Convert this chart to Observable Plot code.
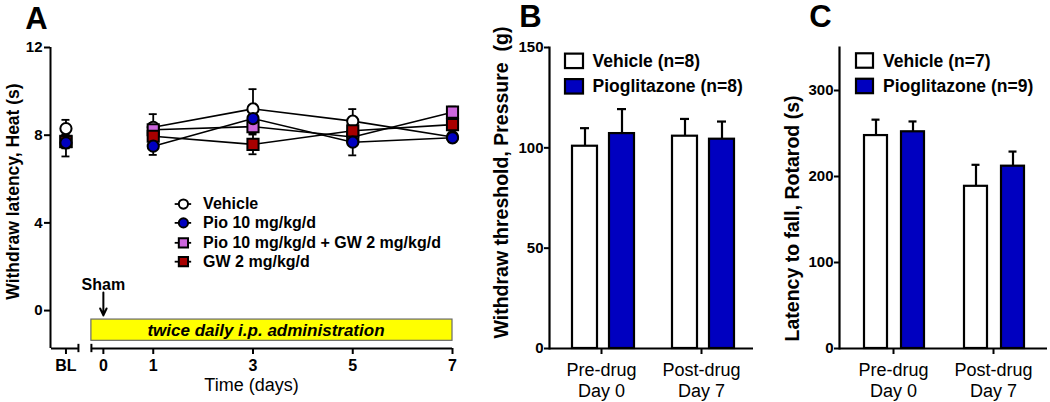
<!DOCTYPE html>
<html><head><meta charset="utf-8">
<script src="https://cdn.jsdelivr.net/npm/d3@7"></script>
<script src="https://cdn.jsdelivr.net/npm/@observablehq/plot@0.6"></script>
<style>
body{margin:0;background:#fff;}
#wrap{position:relative;width:1050px;height:402px;overflow:hidden;background:#fff;}
#wrap > svg{position:absolute;top:0;}
</style></head><body><div id="wrap"></div>
<script>
// ---------- Panel A data ----------
const timePoints = ["BL", 1, 3, 5, 7];
const xTickLabelsA = ["BL", 0, 1, 3, 5, 7];
const yTicksA = [0, 4, 8, 12];
const seriesA = ["Vehicle", "Pio 10 mg/kg/d", "Pio 10 mg/kg/d + GW 2 mg/kg/d", "GW 2 mg/kg/d"];
const vehicleMean = [8.30, 8.36, 9.20, 8.64, 7.92];
const vehicleSem  = [0.40, 0.60, 0.90, 0.55, 0.20];
const pioMean     = [7.65, 7.50, 8.76, 7.68, 7.88];
const pioSem      = [0.62, 0.40, 0.30, 0.60, 0.20];
const pioGwMean   = [7.72, 8.25, 8.39, 7.92, 9.05];
const pioGwSem    = [0.30, 0.30, 0.30, 0.30, 0.25];
const gwMean      = [7.70, 7.95, 7.58, 8.20, 8.48];
const gwSem       = [0.30, 0.30, 0.45, 0.30, 0.25];
const colorsA  = ["#ffffff", "#0000c0", "#cc66dd", "#a80000"];
const symbolsA = ["circle", "circle", "square", "square"];
const boxText = "twice daily i.p. administration";
const shamText = "Sham";

// ---------- Panel B data ----------
const groups = ["Pre-drug\nDay 0", "Post-drug\nDay 7"];
const barSeries = ["Vehicle", "Pioglitazone"];
const vehicleB = [100.8, 105.8];
const vehicleBErr = [9.0, 8.6];
const pioB = [107.1, 104.3];
const pioBErr = [12.2, 8.8];
const legendB = ["Vehicle (n=8)", "Pioglitazone (n=8)"];
const yTicksB = [0, 50, 100, 150];

// ---------- Panel C data ----------
const vehicleC = [247.6, 188.6];
const vehicleCErr = [18.5, 25.0];
const pioC = [252.0, 212.0];
const pioCErr = [12.0, 17.0];
const legendC = ["Vehicle (n=7)", "Pioglitazone (n=9)"];
const yTicksC = [0, 100, 200, 300];

const FONT = '"Liberation Sans", Arial, Helvetica, sans-serif';
const BLUE = "#0000c0";
const wrap = document.getElementById("wrap");
const baseStyle = {fontFamily: FONT, fontSize: "15px", color: "#000", background: "transparent", overflow: "visible"};

// ================= Panel A =================
const BL_POS = -0.75;
const pos = t => t === "BL" ? BL_POS : t;
const xDomainA = [-1.06, 7];
const yDomainA = [-1.73, 12];
const meansA = [vehicleMean, pioMean, pioGwMean, gwMean];
const semsA = [vehicleSem, pioSem, pioGwSem, gwSem];
const rowsA = [];
seriesA.forEach((s, i) => timePoints.forEach((t, j) => rowsA.push({
  series: s, idx: i, day: pos(t), bl: t === "BL", mean: meansA[i][j], sem: semsA[i][j]
})));
const drawOrder = [0, 2, 3, 1];
const legendY = [4.86, 4.0, 3.09, 2.23];

const marksA = [
  // axes
  Plot.ruleX([xDomainA[0]], {strokeWidth: 2}),
  Plot.ruleY([{a: xDomainA[0] + 0.02, b: -0.5}, {a: -0.24, b: 7}], {y: yDomainA[0], x1: "a", x2: "b", strokeWidth: 2}),
  Plot.ruleX([-0.5, -0.24], {y1: yDomainA[0] - 0.19, y2: yDomainA[0] + 0.19, strokeWidth: 2}),
  Plot.axisY({ticks: yTicksA, tickSize: 6, tickPadding: 2, fontSize: 15, fontWeight: "bold", strokeWidth: 2, label: null}),
  Plot.axisX({ticks: xTickLabelsA.map(pos), tickSize: 6, tickPadding: 5, fontSize: 16, fontWeight: "bold", strokeWidth: 2,
    tickFormat: d => d === BL_POS ? "BL" : String(d), label: null}),
  // treatment box
  Plot.rect([{x1: -0.24, x2: 7, y1: -0.41, y2: -1.38}], {x1: "x1", x2: "x2", y1: "y1", y2: "y2", fill: "#ffff00", stroke: "#6a6a6a", strokeWidth: 1.2}),
  Plot.text([boxText], {x: 3.26, y: -0.9, fontSize: 17, fontWeight: "bold", fontStyle: "italic"}),
  // sham arrow
  Plot.arrow([{x: 0}], {x1: "x", x2: "x", y1: 0.82, y2: -0.22, strokeWidth: 2, headLength: 9, headAngle: 50}),
  Plot.text([shamText], {x: 0, y: 1.19, fontSize: 16, fontWeight: "bold"}),
  // error bars
  Plot.ruleX(rowsA, {x: "day", y1: d => d.mean - d.sem, y2: d => d.mean + d.sem, strokeWidth: 1.8}),
  Plot.ruleY(rowsA, {x1: d => d.day - 0.08, x2: d => d.day + 0.08, y: d => d.mean + d.sem, strokeWidth: 1.8}),
  Plot.ruleY(rowsA, {x1: d => d.day - 0.08, x2: d => d.day + 0.08, y: d => d.mean - d.sem, strokeWidth: 1.8}),
  // lines
  Plot.line(rowsA.filter(d => !d.bl), {x: "day", y: "mean", z: "series", stroke: "#000", strokeWidth: 1.6}),
  // markers
  ...drawOrder.map(i => Plot.dot(rowsA.filter(d => d.idx === i), {
    x: "day", y: "mean", symbol: () => symbolsA[i], r: symbolsA[i] === "circle" ? 5.6 : 6.3,
    fill: colorsA[i], stroke: "#000", strokeWidth: 2
  })),
  // legend
  ...seriesA.map((s, i) => Plot.ruleY([legendY[i]], {x1: 1.44, x2: 1.77, strokeWidth: 1.8})),
  ...seriesA.map((s, i) => Plot.dot([legendY[i]], {
    x: 1.605, y: d => d, symbol: () => symbolsA[i], r: symbolsA[i] === "circle" ? 4.6 : 5.2,
    fill: colorsA[i], stroke: "#000", strokeWidth: 2
  })),
  Plot.text(seriesA, {x: 2.0, y: (d, i) => legendY[i], textAnchor: "start", fontSize: 16, fontWeight: "bold"}),
  // labels
  Plot.text(["Time (days)"], {frameAnchor: "bottom", dy: 37, lineAnchor: "middle", fontSize: 18}),
  Plot.text(["Withdraw latency, Heat (s)"], {frameAnchor: "left", rotate: -90, dx: -37, dy: -6.5,
    textAnchor: "middle", lineAnchor: "middle", fontSize: 17.5, fontWeight: "bold"}),
  Plot.text(["A"], {frameAnchor: "top-left", dx: -14, dy: -28, textAnchor: "middle", lineAnchor: "middle", fontSize: 31, fontWeight: "bold"})
];

const plotA = Plot.plot({
  width: 470, height: 402,
  marginLeft: 50, marginRight: 18, marginTop: 47, marginBottom: 54,
  x: {domain: xDomainA, label: null},
  y: {domain: yDomainA, label: null},
  symbol: {type: "identity"},
  style: baseStyle,
  marks: marksA
});
plotA.style.left = "0px";
wrap.appendChild(plotA);

// ================= Panels B & C =================
function barPanel(opts) {
  const {vehicle, vehicleErr, pio, pioErr, legend, yDomain, yTicks, left, width, marginLeft, marginRight,
         padding, bw, vBar, pBar, legBox, legTextDx, legendRows, legendHalf, yLabel, labelSize, labelDy, labelDx, title} = opts;
  const rows = [];
  groups.forEach((g, j) => {
    rows.push({group: g, series: barSeries[0], mean: vehicle[j], err: vehicleErr[j]});
    rows.push({group: g, series: barSeries[1], mean: pio[j], err: pioErr[j]});
  });
  const ins = ([a, b]) => ({insetLeft: a, insetRight: bw - b});
  const cap = ([a, b]) => ({insetLeft: (a + b) / 2 - 4.5, insetRight: bw - (a + b) / 2 - 4.5});
  const dxOf = ([a, b]) => (a + b) / 2 - bw / 2;
  const geo = [vBar, pBar];
  const fills = ["#ffffff", BLUE];
  const marks = [
    ...barSeries.map((s, i) => Plot.ruleX(rows.filter(d => d.series === s), {x: "group", y1: "mean", y2: d => d.mean + d.err, dx: dxOf(geo[i]), strokeWidth: 2.2})),
    ...barSeries.map((s, i) => Plot.tickY(rows.filter(d => d.series === s), {x: "group", y: d => d.mean + d.err, ...cap(geo[i]), strokeWidth: 2.2})),
    ...barSeries.map((s, i) => Plot.barY(rows.filter(d => d.series === s), {x: "group", y: "mean", fill: fills[i], stroke: "#000", strokeWidth: 2.2, ...ins(geo[i])})),
    Plot.ruleY([yDomain[0]], {strokeWidth: 2.2}),
    Plot.frame({anchor: "left", strokeWidth: 2.2}),
    Plot.axisY({ticks: yTicks, tickSize: 5, tickPadding: 1, fontSize: 15, fontWeight: "bold", strokeWidth: 2, label: null}),
    Plot.axisX({tickSize: 6, tickPadding: 6, fontSize: 18, lineHeight: 1.2, strokeWidth: 2, label: null}),
    // legend
    ...barSeries.map((s, i) => Plot.barY([legendRows[i]], {x: () => groups[0], y1: d => d - legendHalf, y2: d => d + legendHalf,
        fill: fills[i], stroke: "#000", strokeWidth: 2.2, ...ins(legBox)})),
    Plot.text(legend, {x: () => groups[0], y: (d, i) => legendRows[i], dx: legTextDx, textAnchor: "start", fontSize: 17.5, fontWeight: "bold"}),
    Plot.text([yLabel], {frameAnchor: "left", rotate: -90, dx: labelDx, dy: labelDy, textAnchor: "middle", lineAnchor: "middle",
        fontSize: labelSize, fontWeight: "bold"}),
    Plot.text([title], {frameAnchor: "top-left", dx: -19, dy: -30, textAnchor: "middle", lineAnchor: "middle", fontSize: 31, fontWeight: "bold"})
  ];
  const p = Plot.plot({
    width, height: 402, marginLeft, marginRight, marginTop: 47, marginBottom: 54,
    x: {domain: groups, padding, label: null},
    y: {domain: yDomain, label: null},
    style: baseStyle,
    marks
  });
  p.style.left = left + "px";
  wrap.appendChild(p);
}

barPanel({
  vehicle: vehicleB, vehicleErr: vehicleBErr, pio: pioB, pioErr: pioBErr, legend: legendB,
  yDomain: [0, 150], yTicks: yTicksB, left: 480, width: 290, marginLeft: 69, marginRight: 17,
  padding: 0.04, bw: 96, vBar: [19, 44], pBar: [56, 81], legBox: [12, 30], legTextDx: -9,
  legendRows: [143.1, 130.4], legendHalf: 3.6,
  yLabel: "Withdraw threshold, Pressure  (g)", labelSize: 19.5, labelDx: -48, labelDy: -15.5, title: "B"
});
barPanel({
  vehicle: vehicleC, vehicleErr: vehicleCErr, pio: pioC, pioErr: pioCErr, legend: legendC,
  yDomain: [0, 350], yTicks: yTicksC, left: 770, width: 280, marginLeft: 69, marginRight: 3,
  padding: 0.06, bw: 95, vBar: [18, 42], pBar: [55, 79], legBox: [10, 28], legTextDx: -10.5,
  legendRows: [334.3, 304.7], legendHalf: 8.4,
  yLabel: "Latency to fall, Rotarod (s)", labelSize: 19.5, labelDx: -47, labelDy: 20.5, title: "C"
});
</script></body></html>
